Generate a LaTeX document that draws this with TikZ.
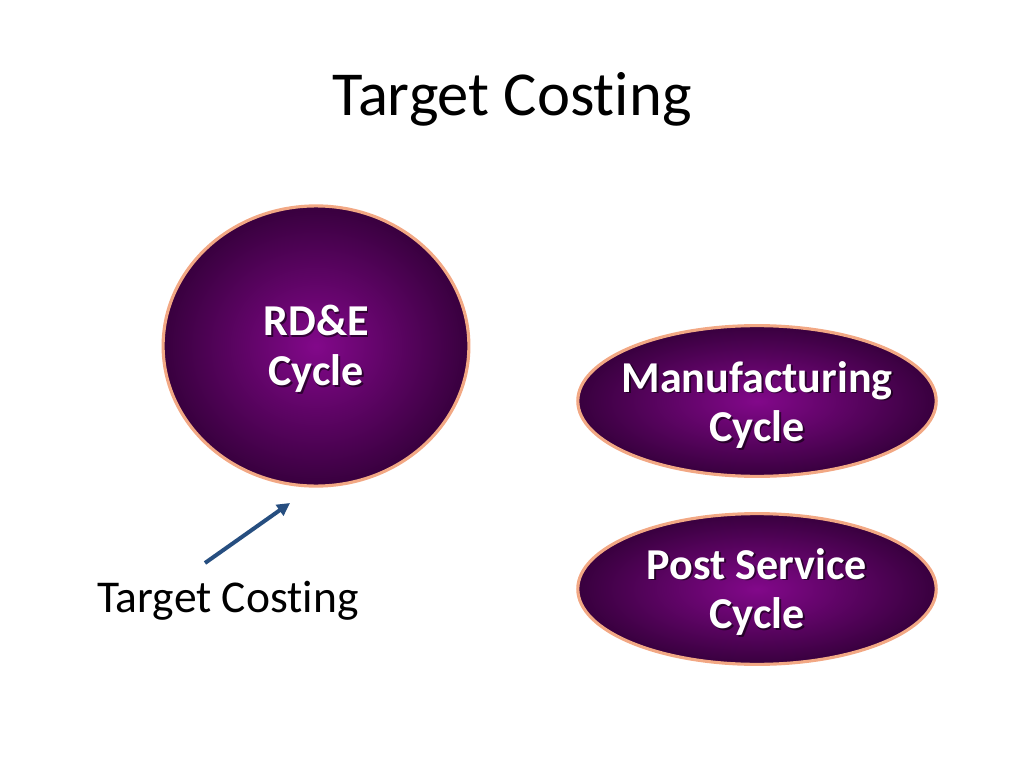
\documentclass[tikz,border=0pt]{standalone}
\usepackage{fontspec}
\setmainfont[Ligatures=NoCommon]{Carlito}
\usetikzlibrary{shapes.geometric, arrows.meta, positioning}

\definecolor{cycin}{RGB}{130,8,138}
\definecolor{cycout}{RGB}{56,0,62}
\definecolor{cycrim}{RGB}{242,168,132}
\definecolor{arrowblue}{RGB}{38,78,128}

\begin{document}
\begin{tikzpicture}[x=0.703125pt, y=-0.703125pt,
    cyc/.style={ellipse, draw=cycrim, line width=2.2pt, shading=radial, inner color=cycin, outer color=cycout, inner sep=0pt},
    cyctext/.style={text=white, font=\fontsize{31}{35}\selectfont\bfseries, align=center},
    cycshadow/.style={cyctext, text=black, opacity=0.55}]
    \useasboundingbox (0,0) rectangle (1024,768);

    % Title
    \node [font=\fontsize{44}{53}\selectfont, anchor=base] (title) at (512,116) {Target Costing};

    % Cycles
    \node [cyc, minimum width=215pt, minimum height=197pt] (rde) at (316,346) {};
    \node [cyc, minimum width=252pt, minimum height=106pt] (mfg) at (757,401) {};
    \node [cyc, minimum width=252pt, minimum height=106pt] (post) at (757,589) {};

    % Cycle labels (with a soft shadow)
    \node [cycshadow] at ([xshift=1.2pt, yshift=-3.3pt]rde) {RD\&E\\Cycle};
    \node [cyctext] (rde-txt) at ([yshift=-2.1pt]rde) {RD\&E\\Cycle};
    \node [cycshadow] at ([xshift=1.2pt, yshift=-4pt]mfg) {Manufacturing\\Cycle};
    \node [cyctext] (mfg-txt) at ([yshift=-2.8pt]mfg) {Manufacturing\\Cycle};
    \node [cycshadow] at ([xshift=1.2pt, yshift=-3.3pt]post) {Post Service\\Cycle};
    \node [cyctext] (post-txt) at ([yshift=-2.1pt]post) {Post Service\\Cycle};

    % Target costing label and arrow
    \node [font=\fontsize{32}{38}\selectfont, anchor=base west, inner sep=0pt] (tc) at (97,612) {Target Costing};
    \coordinate (tail) at (205,563);
    \coordinate (tip) at (290,503);
    \draw [arrowblue, line width=2.8pt, -{Triangle[length=9pt, width=9pt]}] (tail) -- (tip);
\end{tikzpicture}
\end{document}
